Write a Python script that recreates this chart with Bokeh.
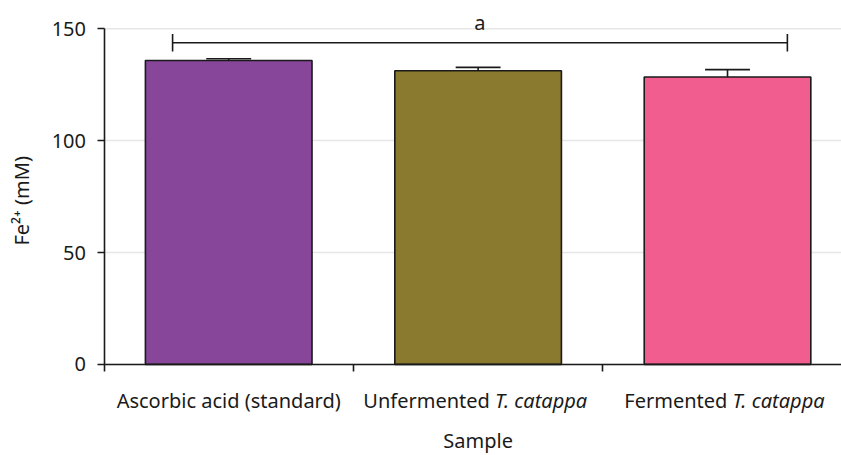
import math
from bokeh.plotting import figure
from bokeh.models import FixedTicker, Range1d, ColumnDataSource
from bokeh.core.properties import value
from bokeh.embed import file_html
from bokeh.resources import INLINE

# ---- data ----
samples = ["Ascorbic acid (standard)", "Unfermented T. catappa", "Fermented T. catappa"]
label_plain = ["Ascorbic acid (standard)", "Unfermented ", "Fermented "]
label_italic = ["", "T. catappa", "T. catappa"]
fe_values = [135.8, 131.2, 128.4]
fe_errors = [0.8, 1.5, 3.3]
bar_colors = ["#88469B", "#8A7A30", "#F05D8E"]
y_ticks = [0, 50, 100, 150]
x_label = "Sample"
y_label = "Fe²⁺ (mM)"
sig_letter = "a"
sig_level = 143.7

# ---- layout / style ----
FONT = "Noto Sans"
TXT = "#1a1a1a"
LINE = "#1a1a1a"
X_START, X_END = -0.415, 2.957
Y_START, Y_END = -40.7, 162.6
bar_width = 0.668
cap_half = 0.09
split_offsets = [0, 17, 5]      # px offset of plain/italic split from category centre
cat_label_y = -16.1             # data units below the x axis
x_title_y = -34.0
y_title_x, y_title_y = -0.33, 73.1

centers = [i + 0.5 for i in range(len(samples))]
tops = [v + e for v, e in zip(fe_values, fe_errors)]

p = figure(width=841, height=455, output_backend="svg", toolbar_location=None,
           x_range=Range1d(X_START, X_END), y_range=Range1d(Y_START, Y_END),
           min_border_left=0, min_border_right=0, min_border_top=0, min_border_bottom=0)
p.outline_line_color = None
p.background_fill_color = "white"
p.border_fill_color = "white"
p.xgrid.visible = False
p.ygrid.visible = False

# horizontal grid lines, starting at the y axis
p.segment(x0=[0] * len(y_ticks), y0=y_ticks, x1=[X_END] * len(y_ticks), y1=y_ticks,
          line_color="#e6e6e6", line_width=1.5)

src = ColumnDataSource(dict(x=centers, top=fe_values, err_top=tops, color=bar_colors,
                            c0=[c - cap_half for c in centers], c1=[c + cap_half for c in centers]))

p.vbar(x="x", top="top", bottom=0, width=bar_width, fill_color="color",
       line_color=LINE, line_width=1.6, source=src)
p.segment(x0="x", y0="top", x1="x", y1="err_top", line_color=LINE, line_width=1.6, source=src)
p.segment(x0="c0", y0="err_top", x1="c1", y1="err_top", line_color=LINE, line_width=1.6, source=src)

# significance bracket spanning all samples
bx0, bx1 = 0.275, 2.74
tick_h = 3.9
p.segment(x0=[bx0, bx0, bx1], y0=[sig_level, sig_level - tick_h, sig_level - tick_h],
          x1=[bx1, bx0, bx1], y1=[sig_level, sig_level + tick_h, sig_level + tick_h],
          line_color=LINE, line_width=1.6)
p.text(x=[(bx0 + bx1) / 2], y=[152.8], text=[sig_letter], text_font=value(FONT),
       text_font_size="20px", text_color=TXT, text_align="center", text_baseline="middle")

# y axis at x = 0
p.yaxis.fixed_location = 0
p.yaxis.ticker = FixedTicker(ticks=y_ticks)
p.yaxis.bounds = (0, 150)
p.yaxis.minor_tick_line_color = None
p.yaxis.major_tick_in = 0
p.yaxis.major_tick_out = 7
p.yaxis.axis_line_width = 1.6
p.yaxis.major_tick_line_width = 1.6
p.yaxis.axis_line_color = LINE
p.yaxis.major_tick_line_color = LINE
p.yaxis.major_label_text_font = FONT
p.yaxis.major_label_text_font_size = "20px"
p.yaxis.major_label_text_color = TXT
p.yaxis.major_label_standoff = 11

# x axis at y = 0
p.xaxis.fixed_location = 0
p.xaxis.ticker = FixedTicker(ticks=[0, 1, 2, 3])
p.xaxis.bounds = (0, X_END)
p.xaxis.minor_tick_line_color = None
p.xaxis.major_tick_in = 0
p.xaxis.major_tick_out = 7
p.xaxis.axis_line_width = 1.6
p.xaxis.major_tick_line_width = 1.6
p.xaxis.axis_line_color = LINE
p.xaxis.major_tick_line_color = LINE
p.xaxis.major_label_text_font_size = "0px"
p.xaxis.major_label_standoff = 0

# category labels (plain + italic parts)
plain_x, plain_t, plain_off, plain_align = [], [], [], []
ital_x, ital_t, ital_off = [], [], []
for xc, plain, ital, d in zip(centers, label_plain, label_italic, split_offsets):
    plain_x.append(xc)
    plain_t.append(plain)
    plain_off.append(d)
    plain_align.append("right" if ital else "center")
    if ital:
        ital_x.append(xc)
        ital_t.append(ital)
        ital_off.append(d)

p.text(x=plain_x, y=[cat_label_y] * len(plain_x), text=plain_t, x_offset=plain_off,
       text_align=plain_align, text_baseline="middle", text_font=value(FONT),
       text_font_size="20px", text_color=TXT)
p.text(x=ital_x, y=[cat_label_y] * len(ital_x), text=ital_t, x_offset=ital_off,
       text_align="left", text_baseline="middle", text_font=value(FONT),
       text_font_size="20px", text_font_style="italic", text_color=TXT)

# axis titles
p.text(x=[sum(centers) / len(centers)], y=[x_title_y], text=[x_label], text_align="center",
       text_baseline="middle", text_font=value(FONT), text_font_size="20px", text_color=TXT)
p.text(x=[y_title_x], y=[y_title_y], text=[y_label], angle=math.pi / 2, text_align="center",
       text_baseline="alphabetic", text_font=value(FONT), text_font_size="20px", text_color=TXT)

open("out.html", "w").write(file_html(p, INLINE))
